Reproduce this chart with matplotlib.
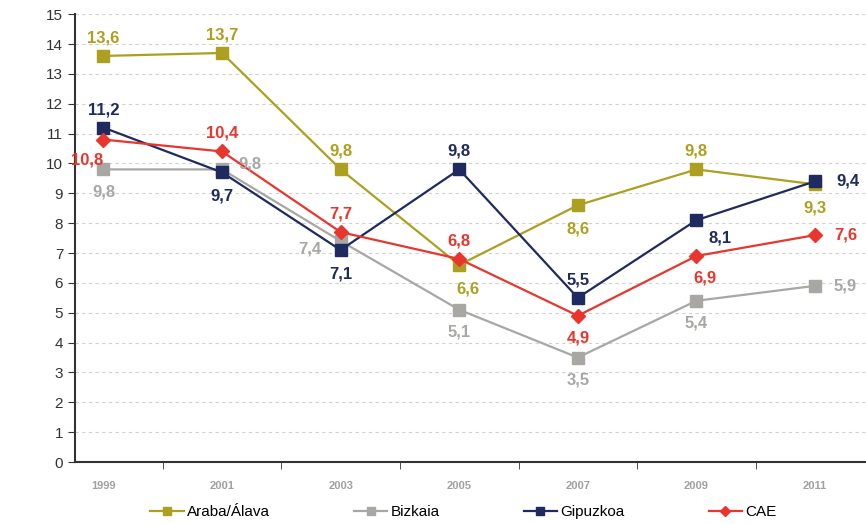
import matplotlib
matplotlib.use("Agg")
import matplotlib.pyplot as plt

plt.rcParams["font.family"] = ["Liberation Sans", "DejaVu Sans"]

years = ["1999", "2001", "2003", "2005", "2007", "2009", "2011"]
araba = [13.6, 13.7, 9.8, 6.6, 8.6, 9.8, 9.3]
bizkaia = [9.8, 9.8, 7.4, 5.1, 3.5, 5.4, 5.9]
gipuzkoa = [11.2, 9.7, 7.1, 9.8, 5.5, 8.1, 9.4]
cae = [10.8, 10.4, 7.7, 6.8, 4.9, 6.9, 7.6]

# posicion de etiqueta por punto: (dx, dy) en puntos
araba_pos = [(0, 13), (0, 13), (0, 13), (6, -17), (0, -17), (0, 13), (0, -17)]
bizkaia_pos = [(0, -16), (20, 4), (-22, -6), (0, -16), (0, -16), (0, -16), (22, 0)]
gipuzkoa_pos = [(0, 13), (0, -17), (0, -17), (0, 13), (0, 13), (17, -13), (24, 0)]
cae_pos = [(-12, -15), (0, 13), (0, 13), (0, 13), (0, -16), (6, -16), (22, 0)]

series = [
    ("Araba/Álava", araba, araba_pos, "#ADA021", "s"),
    ("Bizkaia", bizkaia, bizkaia_pos, "#A9A7A4", "s"),
    ("Gipuzkoa", gipuzkoa, gipuzkoa_pos, "#1F2A5E", "s"),
    ("CAE", cae, cae_pos, "#E8362E", "D"),
]

fig = plt.figure(figsize=(8.66, 5.24), dpi=100)
ax = fig.add_axes([0.0866, 0.1183, 0.9134, 0.8547])

x = list(range(len(years)))
for name, vals, pos, col, mk in series:
    ms = 9 if mk == "s" else 7
    ax.plot(x, vals, color=col, lw=1.6, marker=mk, markersize=ms, label=name)
    for xi, v, (dx, dy) in zip(x, vals, pos):
        ax.annotate(f"{v:.1f}".replace(".", ","), (xi, v), xytext=(dx, dy),
                    textcoords="offset points", ha="center", va="center",
                    color=col, fontsize=12, fontweight="bold")

ax.set_xlim(-0.24, 6.43)
ax.set_ylim(0, 15)
ax.set_yticks(range(0, 16))
ax.set_xticks(x)
ax.set_xticklabels(years, color="#A0A0A0", fontsize=8, fontweight="bold")
ax.set_xticks([i + 0.5 for i in x[:-1]], minor=True)
ax.tick_params(axis="x", which="major", length=0, pad=14)
ax.tick_params(axis="x", which="minor", length=5, color="#333333")
ax.tick_params(axis="y", length=5, color="#333333", labelcolor="#333333", labelsize=11)
ax.grid(axis="y", linestyle=(0, (3, 3)), color="#D0D0D0", lw=0.8)
ax.set_axisbelow(True)
for s in ["top", "right"]:
    ax.spines[s].set_visible(False)
ax.spines["left"].set_color("#333333")
ax.spines["bottom"].set_color("#333333")
ax.spines["left"].set_linewidth(1.5)
ax.spines["bottom"].set_linewidth(1.5)

fig.legend(loc="center", bbox_to_anchor=(0.535, 1 - 512 / 524), ncol=4, frameon=False,
           fontsize=11, handlelength=2.2, handletextpad=0.2, columnspacing=5.5,
           markerscale=0.7)

fig.savefig("out.png", dpi=100)
